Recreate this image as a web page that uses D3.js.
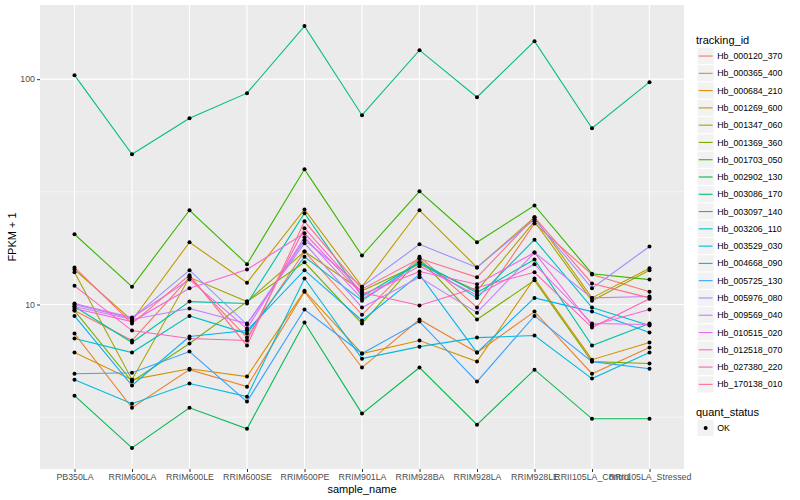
<!DOCTYPE html>
<html>
<head>
<meta charset="utf-8">
<script src="https://cdn.jsdelivr.net/npm/d3@7"></script>
<style>
  body { margin: 0; background: #fff; }
  text { font-family: "Liberation Sans", Arial, sans-serif; }
</style>
</head>
<body>
<div id="chart"></div>
<script>
// sample names on the x axis
var samples = ["PB350LA", "RRIM600LA", "RRIM600LE", "RRIM600SE", "RRIM600PE", "RRIM901LA",
               "RRIM928BA", "RRIM928LA", "RRIM928LE", "RRII105LA_Control", "RRII105LA_Stressed"];

var tracking_ids = ["Hb_000120_370", "Hb_000365_400", "Hb_000684_210", "Hb_001269_600", "Hb_001347_060",
                    "Hb_001369_360", "Hb_001703_050", "Hb_002902_130", "Hb_003086_170", "Hb_003097_140",
                    "Hb_003206_110", "Hb_003529_030", "Hb_004668_090", "Hb_005725_130", "Hb_005976_080",
                    "Hb_009569_040", "Hb_010515_020", "Hb_012518_070", "Hb_027380_220", "Hb_170138_010"];

// FPKM + 1, one array per gene, same order as samples
var hb_000120_370 = [9.4, 6.92, 13.2, 7.13, 17.2, 9.0, 16.3, 9.7, 22.9, 13.6, 11.4];
var hb_000365_400 = [7.43, 3.48, 5.14, 4.32, 11.4, 5.25, 8.58, 6.12, 9.3, 4.93, 6.44];
var hb_000684_210 = [6.12, 4.64, 5.19, 4.79, 11.5, 6.06, 6.92, 5.58, 13.05, 5.69, 6.78];
var hb_001269_600 = [14.3, 8.49, 18.9, 12.5, 26.4, 12.0, 26.2, 14.6, 24.4, 10.7, 14.5];
var hb_001347_060 = [13.9, 4.64, 13.2, 10.3, 17.2, 11.5, 15.1, 11.5, 23.4, 10.4, 14.2];
var hb_001369_360 = [9.4, 4.55, 6.71, 10.3, 15.4, 8.23, 16.0, 8.58, 12.8, 5.58, 5.47];
var hb_001703_050 = [20.5, 12.0, 26.2, 15.1, 39.8, 16.5, 31.8, 18.9, 27.5, 13.7, 12.9];
var hb_002902_130 = [3.94, 2.31, 3.48, 2.81, 8.32, 3.28, 5.25, 2.93, 5.14, 3.11, 3.11];
var hb_003086_170 = [104.2, 46.4, 67.1, 86.7, 172, 69.2, 134.5, 83.2, 147.5, 60.6, 97.0];
var hb_003097_140 = [9.8, 6.78, 10.3, 10.1, 25.4, 10.85, 15.4, 11.3, 15.85, 6.57, 8.23];
var hb_003206_110 = [7.06, 6.12, 8.9, 7.43, 16.3, 10.4, 15.4, 10.7, 19.4, 9.7, 8.07];
var hb_003529_030 = [4.64, 3.63, 4.46, 3.90, 13.05, 5.75, 6.5, 7.13, 7.28, 4.69, 6.12];
var hb_004668_090 = [8.9, 4.37, 7.21, 7.66, 14.2, 8.49, 13.6, 6.12, 10.7, 9.3, 7.51];
var hb_005725_130 = [4.93, 4.98, 6.18, 3.71, 9.5, 6.06, 8.4, 4.55, 8.9, 5.58, 5.19];
var hb_005976_080 = [10.0, 8.67, 14.2, 8.15, 19.3, 12.0, 18.5, 14.6, 23.9, 11.8, 18.1];
var hb_009569_040 = [9.8, 8.58, 9.6, 8.23, 18.7, 9.7, 13.2, 9.2, 17.0, 10.7, 10.85];
var hb_010515_020 = [10.1, 8.75, 12.9, 7.82, 19.9, 10.6, 14.8, 11.0, 15.1, 8.23, 8.15];
var hb_012518_070 = [9.6, 8.4, 11.8, 14.3, 20.7, 11.1, 14.0, 12.3, 17.0, 8.07, 9.5];
var hb_027380_220 = [12.1, 7.66, 7.06, 6.92, 21.8, 11.3, 9.9, 11.9, 13.9, 7.9, 10.6];
var hb_170138_010 = [14.6, 8.23, 13.5, 6.57, 23.4, 11.7, 16.0, 13.2, 24.4, 12.4, 10.7];

// ggplot default hue palette for 20 levels
var hue_colors = ["#F8766D", "#EA8331", "#D89000", "#C09B00", "#A3A500", "#7CAE00", "#39B600", "#00BB4E",
                  "#00BF7D", "#00C1A3", "#00BFC4", "#00BAE0", "#00B0F6", "#35A2FF", "#9590FF", "#C77CFF",
                  "#E76BF3", "#FA62DB", "#FF62BC", "#FF6C90"];

var y_breaks = [10, 100];
var y_minor = [3.1623, 31.623];
var quant_levels = ["OK"];

var series_vals = [hb_000120_370, hb_000365_400, hb_000684_210, hb_001269_600, hb_001347_060,
                   hb_001369_360, hb_001703_050, hb_002902_130, hb_003086_170, hb_003097_140,
                   hb_003206_110, hb_003529_030, hb_004668_090, hb_005725_130, hb_005976_080,
                   hb_009569_040, hb_010515_020, hb_012518_070, hb_027380_220, hb_170138_010];

var series = tracking_ids.map(function(id, i) {
    return { id: id, color: hue_colors[i],
             values: series_vals[i].map(function(v, j) { return { sample: samples[j], val: v }; }) };
});

var W = 800, H = 500;
var panel = { left: 40, right: 684, top: 5, bottom: 469 };

var svg = d3.select("#chart").append("svg").attr("width", W).attr("height", H);

var xscale = d3.scalePoint().domain(samples).range([panel.left, panel.right]).padding(0.6);

var all = [].concat.apply([], series_vals);
var lmin = Math.log10(d3.min(all)), lmax = Math.log10(d3.max(all));
var pad = (lmax - lmin) * 0.05;
var yscale = d3.scaleLog().domain([Math.pow(10, lmin - pad), Math.pow(10, lmax + pad)])
    .range([panel.bottom, panel.top]);

// panel background
svg.append("rect")
    .attr("x", panel.left).attr("y", panel.top)
    .attr("width", panel.right - panel.left).attr("height", panel.bottom - panel.top)
    .attr("fill", "#EBEBEB");

var grid = svg.append("g");
grid.selectAll(".minor").data(y_minor).enter().append("line")
    .attr("x1", panel.left).attr("x2", panel.right)
    .attr("y1", function(d) { return yscale(d); }).attr("y2", function(d) { return yscale(d); })
    .attr("stroke", "#fff").attr("stroke-width", 0.55);
grid.selectAll(".major").data(y_breaks).enter().append("line")
    .attr("x1", panel.left).attr("x2", panel.right)
    .attr("y1", function(d) { return yscale(d); }).attr("y2", function(d) { return yscale(d); })
    .attr("stroke", "#fff").attr("stroke-width", 1.1);
grid.selectAll(".vmajor").data(samples).enter().append("line")
    .attr("x1", function(d) { return xscale(d); }).attr("x2", function(d) { return xscale(d); })
    .attr("y1", panel.top).attr("y2", panel.bottom)
    .attr("stroke", "#fff").attr("stroke-width", 1.1);

// lines
var line = d3.line()
    .x(function(d) { return xscale(d.sample); })
    .y(function(d) { return yscale(d.val); });

svg.append("g").selectAll("path").data(series).enter().append("path")
    .attr("d", function(d) { return line(d.values); })
    .attr("fill", "none")
    .attr("stroke", function(d) { return d.color; })
    .attr("stroke-width", 1.1);

// points
var pts = [];
series.forEach(function(s) { s.values.forEach(function(p) { pts.push(p); }); });
svg.append("g").selectAll("circle").data(pts).enter().append("circle")
    .attr("cx", function(d) { return xscale(d.sample); })
    .attr("cy", function(d) { return yscale(d.val); })
    .attr("r", 2)
    .attr("fill", "#000");

// axes
var xAxis = d3.axisBottom(xscale).tickSize(3).tickPadding(2);
var gx = svg.append("g").attr("transform", "translate(0," + panel.bottom + ")").call(xAxis);
gx.select(".domain").remove();
gx.selectAll(".tick line").attr("stroke", "#333");
gx.selectAll(".tick text").attr("fill", "#4D4D4D").style("font-size", "8.8px")
    .style("font-family", "Liberation Sans, Arial, sans-serif");

var yAxis = d3.axisLeft(yscale).tickValues(y_breaks).tickFormat(d3.format("d")).tickSize(3).tickPadding(2);
var gy = svg.append("g").attr("transform", "translate(" + panel.left + ",0)").call(yAxis);
gy.select(".domain").remove();
gy.selectAll(".tick line").attr("stroke", "#333");
gy.selectAll(".tick text").attr("fill", "#4D4D4D").style("font-size", "8.8px")
    .style("font-family", "Liberation Sans, Arial, sans-serif");

svg.append("text")
    .attr("x", (panel.left + panel.right) / 2).attr("y", 493)
    .attr("text-anchor", "middle").style("font-size", "11px")
    .text("sample_name");

svg.append("text")
    .attr("transform", "translate(16," + (panel.top + panel.bottom) / 2 + ") rotate(-90)")
    .attr("text-anchor", "middle").style("font-size", "11px")
    .text("FPKM + 1");

// legend: tracking_id
var lx = 697, key = 17.28;
var leg = svg.append("g");
leg.append("text").attr("x", lx - 1).attr("y", 44).style("font-size", "11px").text("tracking_id");

var items = leg.selectAll(".item").data(series).enter().append("g")
    .attr("transform", function(d, i) { return "translate(" + lx + "," + (47.4 + i * key) + ")"; });
items.append("rect").attr("width", key).attr("height", key)
    .attr("fill", "#F2F2F2").attr("stroke", "#fff").attr("stroke-width", 1);
items.append("line").attr("x1", 1.7).attr("x2", key - 1.7)
    .attr("y1", key / 2).attr("y2", key / 2)
    .attr("stroke", function(d) { return d.color; }).attr("stroke-width", 1.1);
items.append("text").attr("x", key + 3).attr("y", key / 2 + 3.1)
    .style("font-size", "8.8px").attr("fill", "#000")
    .text(function(d) { return d.id; });

// legend: quant_status
var leg2 = svg.append("g");
leg2.append("text").attr("x", lx - 1).attr("y", 416).style("font-size", "11px").text("quant_status");
var q = leg2.selectAll(".q").data(quant_levels).enter().append("g")
    .attr("transform", function(d, i) { return "translate(" + lx + "," + (419.4 + i * key) + ")"; });
q.append("rect").attr("width", key).attr("height", key)
    .attr("fill", "#F2F2F2").attr("stroke", "#fff").attr("stroke-width", 1);
q.append("circle").attr("cx", key / 2).attr("cy", key / 2).attr("r", 2).attr("fill", "#000");
q.append("text").attr("x", key + 3).attr("y", key / 2 + 3.1)
    .style("font-size", "8.8px").text(function(d) { return d; });
</script>
</body>
</html>
